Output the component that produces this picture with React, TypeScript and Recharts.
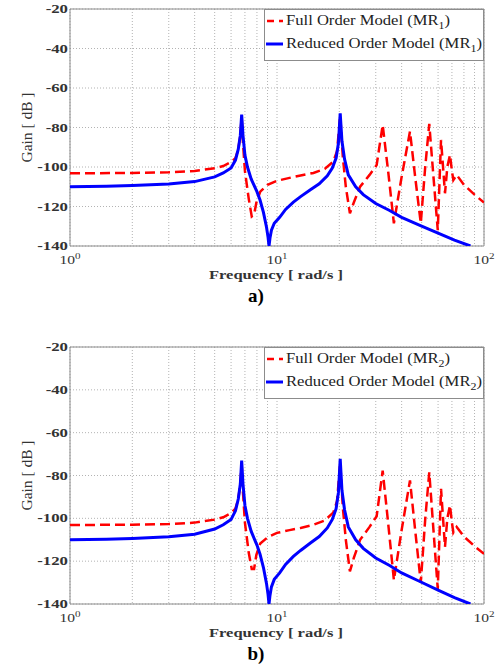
import React from "react";
import {
  LineChart,
  Line,
  XAxis,
  YAxis,
  CartesianGrid,
  ReferenceArea,
  Legend,
} from "recharts";

const SERIF = "'Liberation Serif', 'Times New Roman', serif";

const xTicks = [1, 2, 3, 4, 5, 6, 7, 8, 9, 10, 20, 30, 40, 50, 60, 70, 80, 90, 100];
const yTicks = [-140, -120, -100, -80, -60, -40, -20];

// full order model, rad/s
const fullFreq = [
  1, 2, 3, 4, 5, 5.5, 6, 6.3, 6.5, 6.65, 6.75, 6.85, 7.0, 7.3, 7.55, 7.75, 7.95, 8.3, 9, 10,
  11.5, 13, 15, 17, 18.7, 19.5, 20.2, 20.8, 21.5, 22.5, 23.5, 25.2, 28, 30.3, 32.4, 34.5, 36.7,
  40, 43.9, 46.5, 49.5, 52, 54.4, 57, 59.8, 62, 64.8, 66.5, 68.5, 70, 71.1, 73.8, 80, 90, 100,
];
const fullGain1 = [
  -103.2, -103, -102.7, -102, -100.6, -99.5, -97.5, -95.5, -91, -84, -75, -88, -102, -116, -125,
  -124, -118, -112.5, -109, -107, -105.5, -104.3, -103, -101, -97.3, -92, -74, -95, -110, -123.5,
  -118, -110, -104, -99, -78.7, -103, -128.5, -105, -82, -105, -128.5, -100, -78.2, -105, -132,
  -86.3, -113.3, -100, -93.9, -102, -106.6, -104, -109, -114, -118,
];
const fullGain2 = [
  -103.1, -103, -102.7, -102, -100.6, -99.5, -97.5, -95.5, -91, -84, -75, -88, -102, -116, -123.6,
  -123.6, -117, -111.8, -108.9, -106.8, -105.5, -104.5, -103, -101, -97.3, -92, -74, -95, -110,
  -124.8, -118.5, -110, -104, -99, -77.7, -103, -128.8, -105.5, -82.3, -105.5, -129.9, -100.5,
  -78.5, -105.5, -133, -86.2, -113.3, -100, -93.9, -102, -106.6, -104, -108.5, -113, -116.6,
];

// reduced order model, rad/s
const reducedFreq = [
  1, 1.5, 2, 3, 4, 5, 5.5, 6, 6.3, 6.5, 6.65, 6.75, 6.85, 7.0, 7.2, 7.5, 8.0, 8.28, 8.6, 8.9,
  9.05, 9.15, 9.25, 9.4, 9.7, 10.3, 11, 12, 13, 14.5, 16, 17.5, 18.5, 19.3, 19.8, 20.2, 20.6,
  21.2, 22.1, 24, 26.1, 30, 35, 40, 49, 60, 72, 86,
];
const reducedGain1 = [
  -110, -109.8, -109.4, -108.6, -107.4, -105, -103, -100.5, -96.5, -91, -84, -73.5, -84, -94, -100,
  -106, -112.5, -116.7, -123, -130.5, -135.5, -140, -136, -132, -128.5, -125.5, -121.5, -117.8,
  -115, -111.5, -108.5, -104.5, -100.5, -95.5, -88, -72.8, -87, -96, -104, -110, -114, -118.5,
  -122, -125.5, -129.5, -133.5, -137, -140,
];
const reducedGain2 = [
  -110, -109.8, -109.4, -108.6, -107.4, -105, -103, -100.5, -96.5, -91, -84, -73, -84, -94, -100,
  -106, -112.5, -116.7, -123, -130.5, -135.5, -140, -136, -132, -128.5, -125.5, -121.5, -117.8,
  -115, -111.5, -108.5, -104.5, -100.5, -95.5, -88, -72.2, -87, -96, -104, -110, -114, -118.5,
  -122, -125.5, -129.5, -133.5, -137, -140,
];

function rows(freq: number[], gain: number[]) {
  return freq.map((f, i) => ({ f, g: gain[i] }));
}

function XTick(props: any) {
  const { x, y, payload } = props;
  const v = payload.value;
  if (v !== 1 && v !== 10 && v !== 100) return <g />;
  const exp = Math.round(Math.log10(v));
  return (
    <g transform={`translate(${x},${y + 16})`}>
      <text textAnchor="middle" fontFamily={SERIF} fontSize={12} fill="#333" transform="scale(1.3,1)">
        10
        <tspan dy={-5.5} fontSize={8.5}>
          {exp}
        </tspan>
      </text>
    </g>
  );
}

function YTick(props: any) {
  const { x, y, payload } = props;
  return (
    <g transform={`translate(${x},${y})`}>
      <text textAnchor="end" dy={4} fontFamily={SERIF} fontWeight="bold" fontSize={12} fill="#333" transform="scale(1.4,1)">
        {payload.value}
      </text>
    </g>
  );
}

function LegendBox({ idx }: { idx: number }) {
  return (
    <svg width={220} height={52} style={{ display: "block" }}>
      <rect x={0.5} y={0.5} width={219} height={51} fill="#fff" stroke="#8c8c8c" />
      <line x1={3} y1={12} x2={20} y2={12} stroke="#ff0000" strokeWidth={2.5} strokeDasharray="7 5 4" />
      <text x={22} y={16} textLength={164} lengthAdjust="spacingAndGlyphs" fontFamily={SERIF} fontSize={14} fill="#222">
        Full Order Model (MR<tspan dy={4} fontSize={10}>{idx}</tspan>
        <tspan dy={-4}>)</tspan>
      </text>
      <line x1={2} y1={35} x2={19} y2={35} stroke="#0000ff" strokeWidth={3} />
      <text x={22} y={39} textLength={196} lengthAdjust="spacingAndGlyphs" fontFamily={SERIF} fontSize={14} fill="#222">
        Reduced Order Model (MR<tspan dy={4} fontSize={10}>{idx}</tspan>
        <tspan dy={-4}>)</tspan>
      </text>
    </svg>
  );
}

function GainPlot({
  top,
  height,
  full,
  reduced,
  idx,
  tag,
}: {
  top: number;
  height: number;
  full: { f: number; g: number }[];
  reduced: { f: number; g: number }[];
  idx: number;
  tag: string;
}) {
  return (
    <div style={{ position: "absolute", left: 0, top }}>
      <LineChart width={500} height={height} margin={{ top: 9, right: 16, bottom: 24, left: 10 }}>
        <CartesianGrid stroke="#a0a0a0" strokeDasharray="1 2" strokeWidth={0.8} />
        <ReferenceArea x1={1} x2={100} y1={-140} y2={-20} fill="none" stroke="#8c8c8c" strokeWidth={1} />
        <XAxis
          dataKey="f"
          type="number"
          scale="log"
          domain={[1, 100]}
          ticks={xTicks}
          interval={0}
          allowDataOverflow
          axisLine={false}
          tickLine={false}
          tickSize={0}
          tickMargin={2}
          height={40}
          tick={<XTick />}
          label={(p: any) => {
            const vb = p.viewBox;
            const cx = vb.x + vb.width / 2;
            return (
              <g>
                <text x={cx - 1} y={vb.y + 33} textAnchor="middle" textLength={134} lengthAdjust="spacingAndGlyphs" fontFamily={SERIF} fontWeight="bold" fontSize={12.5} fill="#333">
                  Frequency [ rad/s ]
                </text>
                <text x={cx - 21} y={vb.y + 56} textAnchor="middle" fontFamily={SERIF} fontWeight="bold" fontSize={19} fill="#000">
                  {tag}
                </text>
              </g>
            );
          }}
        />
        <YAxis
          type="number"
          domain={[-140, -20]}
          ticks={yTicks}
          interval={0}
          allowDataOverflow
          width={60}
          axisLine={false}
          tickLine={false}
          tickSize={0}
          tickMargin={2}
          tick={<YTick />}
          label={(p: any) => {
            const vb = p.viewBox;
            const cx = 27;
            const cy = vb.y + vb.height / 2;
            return (
              <text x={cx} y={cy} transform={`rotate(-90 ${cx} ${cy})`} dy={5} textAnchor="middle" textLength={70} lengthAdjust="spacingAndGlyphs" fontFamily={SERIF} fontSize={14} fill="#333">
                Gain [ dB ]
              </text>
            );
          }}
        />
        <Line
          data={full}
          dataKey="g"
          name="Full Order Model"
          type="linear"
          stroke="#ff0000"
          strokeWidth={2.5}
          strokeDasharray="10 5"
          dot={false}
          activeDot={false}
          isAnimationActive={false}
        />
        <Line
          data={reduced}
          dataKey="g"
          name="Reduced Order Model"
          type="linear"
          stroke="#0000ff"
          strokeWidth={3}
          dot={false}
          activeDot={false}
          isAnimationActive={false}
        />
        <Legend
          layout="vertical"
          align="center"
          verticalAlign="middle"
          content={() => <LegendBox idx={idx} />}
          wrapperStyle={{ left: 264, top: 9, width: 220, height: 52 }}
        />
      </LineChart>
    </div>
  );
}

export default function App() {
  return (
    <div style={{ position: "absolute", left: 0, top: 0, width: 500, height: 669, background: "#fff" }}>
      <GainPlot top={0} height={310} full={rows(fullFreq, fullGain1)} reduced={rows(reducedFreq, reducedGain1)} idx={1} tag="a)" />
      <GainPlot top={338} height={330} full={rows(fullFreq, fullGain2)} reduced={rows(reducedFreq, reducedGain2)} idx={2} tag="b)" />
    </div>
  );
}
